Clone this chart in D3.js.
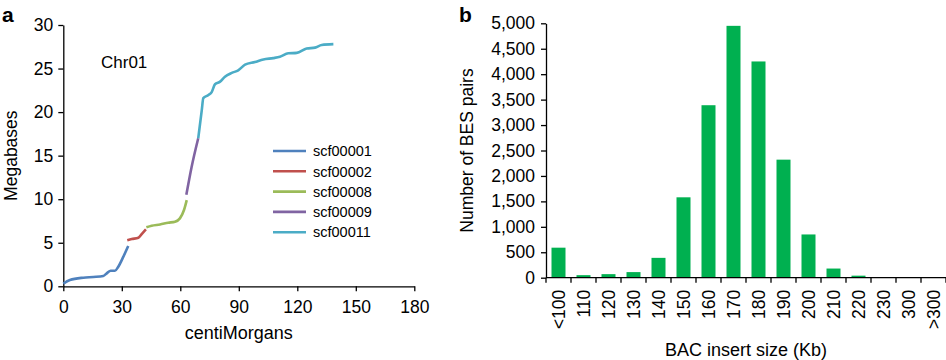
<!DOCTYPE html>
<html lang="en">
<head>
<meta charset="UTF-8">
<title>Chr01 map and BAC insert sizes</title>
<script src="https://d3js.org/d3.v7.min.js"></script>
<style>
    body { margin: 0; background: #fff; }
    svg { display: block; font-family: "Liberation Sans", Arial, sans-serif; }
    .axis path, .axis line { stroke: #000; stroke-width: 1.3px; }
    .axis text { font-size: 17.5px; fill: #000; }
</style>
</head>
<body>
<svg id="chart" width="946" height="360"></svg>
<script>
    // ---- panel a: genetic vs physical position (cM, Mb) ----
    const scaffoldNames = ["scf00001", "scf00002", "scf00008", "scf00009", "scf00011"];
    const scaffoldColors = ["#4F81BD", "#C0504D", "#9BBB59", "#8064A2", "#4BACC6"];

    const scf00001 = [[0, 0.3], [3.4, 0.72], [10.3, 0.99], [15.4, 1.07], [20.5, 1.18], [22.3, 1.49],
        [24.3, 1.79], [26.5, 1.79], [28.2, 2.25], [30.8, 3.4], [33.3, 4.63]];
    const scf00002 = [[32.8, 5.3], [35.1, 5.43], [38.5, 5.58], [40.2, 6.0], [42.4, 6.54]];
    const scf00008 = [[42.6, 6.77], [45.3, 6.96], [49.6, 7.1], [53.8, 7.3], [57.3, 7.42], [59.8, 7.8],
        [61.9, 8.76], [63.3, 9.9]];
    const scf00009 = [[63.1, 10.5], [65.8, 13.7], [69.2, 17.0]];
    const scf00011 = [[69.2, 17.0], [71, 20.2], [71.8, 21.6], [74.4, 21.96], [76.1, 22.3], [77.8, 23.2],
        [80.4, 23.5], [82.9, 24.06], [86.4, 24.5], [89.7, 24.8], [93.2, 25.45], [98.3, 25.75],
        [102.6, 26.05], [107.7, 26.2], [111.1, 26.35], [115.4, 26.75], [119.7, 26.8], [124.8, 27.3],
        [129.1, 27.4], [132.5, 27.7], [138.5, 27.8]];
    const scaffoldPoints = [scf00001, scf00002, scf00008, scf00009, scf00011];

    const cmTicks = [0, 30, 60, 90, 120, 150, 180];
    const mbTicks = [0, 5, 10, 15, 20, 25, 30];

    // ---- panel b: BAC insert size distribution ----
    const sizeLabels = ["<100", "110", "120", "130", "140", "150", "160", "170", "180", "190",
        "200", "210", "220", "230", "300", ">300"];
    const besPairs = [590, 50, 70, 110, 390, 1580, 3390, 4950, 4250, 2320, 850, 180, 40, 5, 8, 3];
    const besTicks = d3.range(0, 5001, 500);

    const svg = d3.select("#chart");

    // ===== panel a =====
    const xA = d3.scaleLinear().domain([0, 180]).range([63.3, 414.3]);
    const yA = d3.scaleLinear().domain([0, 30]).range([286.3, 25]);

    svg.append("g").attr("class", "axis")
        .attr("transform", `translate(0,${yA(0)})`)
        .call(d3.axisBottom(xA).tickValues(cmTicks).tickSize(5).tickPadding(9).tickSizeOuter(0));

    svg.append("g").attr("class", "axis")
        .attr("transform", `translate(${xA(0)},0)`)
        .call(d3.axisLeft(yA).tickValues(mbTicks).tickSize(5).tickPadding(5).tickSizeOuter(0));

    const line = d3.line().x(d => xA(d[0])).y(d => yA(d[1])).curve(d3.curveMonotoneX);

    svg.append("g").selectAll("path")
        .data(scaffoldPoints)
        .join("path")
        .attr("d", line)
        .attr("fill", "none")
        .attr("stroke", (d, i) => scaffoldColors[i])
        .attr("stroke-width", 2.6)
        .attr("stroke-linecap", "butt");

    // legend
    const legend = svg.append("g").selectAll("g")
        .data(scaffoldNames)
        .join("g")
        .attr("transform", (d, i) => `translate(273,${151 + i * 20.3})`);
    legend.append("line")
        .attr("x1", 0).attr("x2", 33)
        .attr("stroke", (d, i) => scaffoldColors[i])
        .attr("stroke-width", 2.6);
    legend.append("text")
        .attr("x", 40).attr("dy", "0.36em")
        .attr("font-size", 14.5)
        .text(d => d);

    svg.append("text").attr("x", 101).attr("y", 67.5).attr("font-size", 17).text("Chr01");

    svg.append("text").attr("x", 2).attr("y", 22).attr("font-size", 21).attr("font-weight", "bold").text("a");

    svg.append("text")
        .attr("transform", `translate(16.5,${(yA(0) + yA(30)) / 2}) rotate(-90)`)
        .attr("text-anchor", "middle").attr("font-size", 17.5)
        .text("Megabases");

    svg.append("text")
        .attr("x", (xA(0) + xA(180)) / 2).attr("y", 339)
        .attr("text-anchor", "middle").attr("font-size", 18)
        .text("centiMorgans");

    // ===== panel b =====
    const xB = d3.scaleBand().domain(sizeLabels).range([546, 946]).paddingInner(0.44).paddingOuter(0.22);
    const yB = d3.scaleLinear().domain([0, 5000]).range([277.7, 23.3]);

    svg.append("g").selectAll("rect")
        .data(besPairs)
        .join("rect")
        .attr("x", (d, i) => xB(sizeLabels[i]))
        .attr("y", d => yB(d))
        .attr("width", xB.bandwidth())
        .attr("height", d => yB(0) - yB(d))
        .attr("fill", "#00B050");

    svg.append("g").attr("class", "axis")
        .attr("transform", `translate(${xB.range()[0]},0)`)
        .call(d3.axisLeft(yB).tickValues(besTicks).tickFormat(d3.format(",")).tickSize(5).tickPadding(6).tickSizeOuter(0));

    // x axis: ticks at category boundaries, labels rotated
    const half = (xB.step() - xB.bandwidth()) / 2;
    const bounds = sizeLabels.map(d => xB(d) - half).concat([xB(sizeLabels[sizeLabels.length - 1]) + xB.bandwidth() + half]);
    const xAxisB = svg.append("g").attr("class", "axis").attr("transform", `translate(0,${yB(0)})`);
    xAxisB.append("line").attr("x1", xB.range()[0]).attr("x2", xB.range()[1]);
    xAxisB.selectAll(".bt").data(bounds).join("line").attr("class", "bt")
        .attr("x1", d => d).attr("x2", d => d).attr("y1", 0).attr("y2", 5);
    xAxisB.selectAll("text").data(sizeLabels).join("text")
        .attr("transform", d => `translate(${xB(d) + xB.bandwidth() / 2},12) rotate(-90)`)
        .attr("text-anchor", "end").attr("dy", "0.35em")
        .text(d => d);

    svg.append("text").attr("x", 459).attr("y", 22).attr("font-size", 21).attr("font-weight", "bold").text("b");

    svg.append("text")
        .attr("transform", `translate(473,${(yB(0) + yB(5000)) / 2}) rotate(-90)`)
        .attr("text-anchor", "middle").attr("font-size", 17.5)
        .text("Number of BES pairs");

    svg.append("text")
        .attr("x", 746).attr("y", 356)
        .attr("text-anchor", "middle").attr("font-size", 18)
        .text("BAC insert size (Kb)");
</script>
</body>
</html>
